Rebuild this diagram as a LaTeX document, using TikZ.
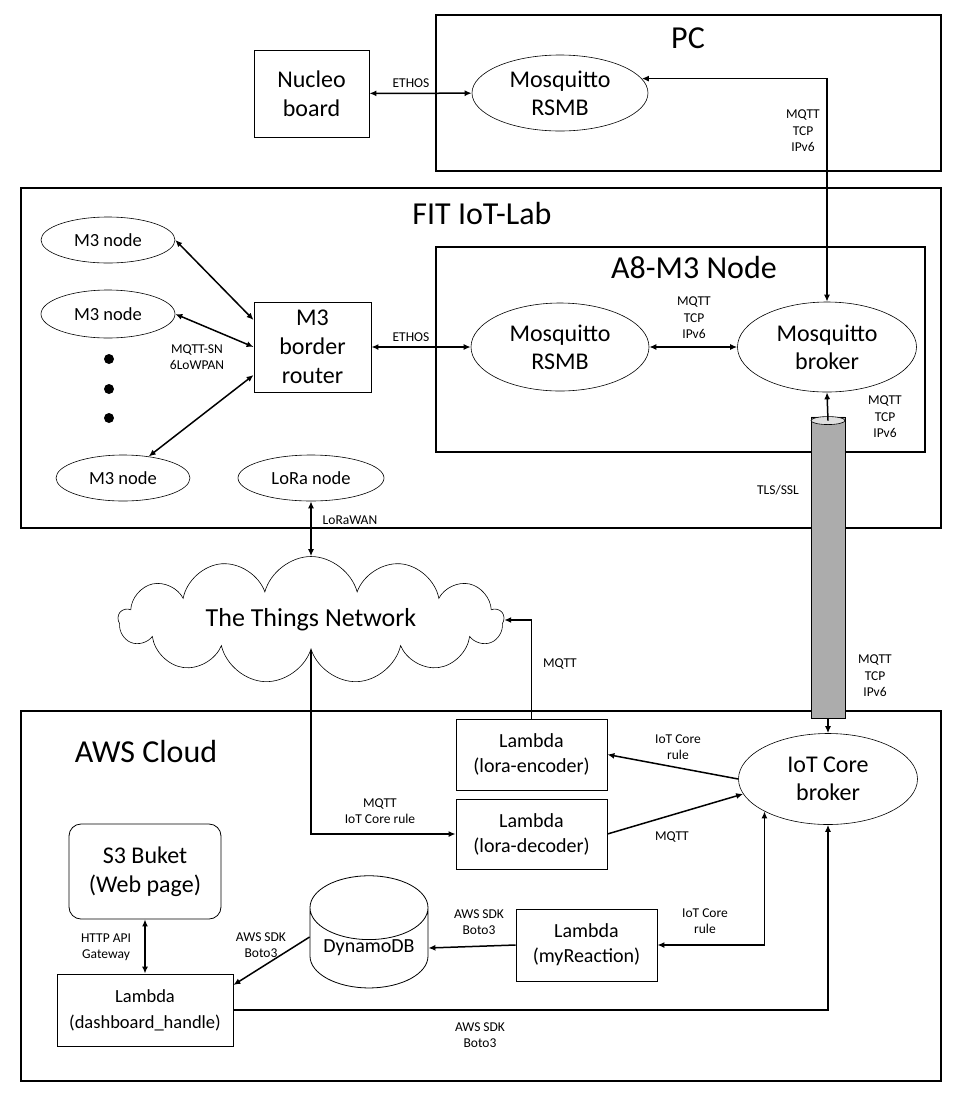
\documentclass[tikz,border=0pt]{standalone}
\usepackage{fontspec}
\setmainfont{Carlito}
\usetikzlibrary{shapes.geometric,shapes.symbols,arrows.meta,positioning}

\begin{document}
\begin{tikzpicture}[x=1pt,y=-1pt,
  frame/.style={draw,line width=2pt},
  box/.style={draw,line width=0.8pt,inner sep=0pt,align=center,font=\fontsize{24}{29}\selectfont},
  lbox/.style={box,font=\fontsize{20}{25}\selectfont},
  oval/.style={ellipse,draw,line width=0.6pt,inner sep=0pt,align=center,font=\fontsize{24}{28}\selectfont},
  ttl/.style={font=\fontsize{32}{36}\selectfont},
  lbl/.style={align=center,inner sep=0pt,font=\fontsize{13.5}{16.5}\selectfont},
  link/.style={line width=1.5pt,-{Latex[length=7pt,width=6pt]}},
  link2/.style={line width=1.5pt,{Latex[length=7pt,width=6pt]}-{Latex[length=7pt,width=6pt]}}]

\useasboundingbox (0,0) rectangle (960,1096);

% frames
\draw[frame] (436,15) rectangle (941,171);
\draw[frame] (21,188) rectangle (941,528);
\draw[frame] (436,247) rectangle (925,452);
\draw[frame] (21,711) rectangle (941,1081);

\node[ttl] (tPC) at (688,38) {PC};
\node[ttl] (tFIT) at (482,214) {FIT IoT-Lab};
\node[ttl] (tA8) at (694,268) {A8-M3 Node};
\node[ttl] (tAWS) at (146,751) {AWS Cloud};

% PC
\node[box,minimum width=115pt,minimum height=87pt] (nucleo) at (311.5,93.5) {Nucleo\\board};
\node[oval,minimum width=176pt,minimum height=76pt] (pcrsmb) at (560,93) {Mosquitto\\RSMB};

% FIT IoT-Lab
\node[oval,minimum width=134pt,minimum height=46pt,font=\fontsize{18.5}{22}\selectfont] (m3a) at (108,240) {M3 node};
\node[oval,minimum width=134pt,minimum height=48pt,font=\fontsize{18.5}{22}\selectfont] (m3b) at (108,314) {M3 node};
\node[oval,minimum width=134pt,minimum height=46pt,font=\fontsize{18.5}{22}\selectfont] (m3c) at (123,478) {M3 node};
\node[oval,minimum width=146pt,minimum height=46pt,font=\fontsize{18.5}{22}\selectfont] (lora) at (311,478) {LoRa node};

\foreach \y in {359,389,418}
{
  \fill (109,\y) circle (5);
}

\node[box,minimum width=117pt,minimum height=90pt] (router) at (312.5,347) {M3\\border\\router};
\node[oval,minimum width=178pt,minimum height=88pt] (a8rsmb) at (560,347) {Mosquitto\\RSMB};
\node[oval,minimum width=179pt,minimum height=90pt] (a8brk) at (827,347) {Mosquitto\\broker};

% tunnel
\node[cylinder,shape border rotate=90,draw,line width=0.6pt,cylinder uses custom fill,
  cylinder body fill=gray!65,cylinder end fill=gray!25,aspect=2,
  minimum width=34pt,minimum height=301pt,inner sep=0pt] (tls) at (828,567.5) {};
\draw[fill=gray!25,line width=0.6pt] ([yshift=-4pt]tls.top) ellipse (17pt and 4pt);

% cloud
\node[cloud,draw,line width=0.6pt,cloud puffs=13,aspect=4,inner sep=0pt,
  minimum width=385pt,minimum height=125pt,font=\fontsize{26}{30}\selectfont] (ttn) at (311,620) {The Things Network};

% AWS
\node[oval,minimum width=179pt,minimum height=91pt] (iotb) at (828,779) {IoT Core\\broker};
\node[lbox,minimum width=151pt,minimum height=71pt] (enc) at (531.5,754.5) {Lambda\\(lora-encoder)};
\node[lbox,minimum width=151pt,minimum height=70pt] (dec) at (531.5,834) {Lambda\\(lora-decoder)};
\node[lbox,minimum width=141pt,minimum height=72pt] (myr) at (586.5,945) {Lambda\\(myReaction)};
\node[cylinder,shape border rotate=90,draw,line width=0.8pt,aspect=0.7,inner sep=0pt,
  minimum width=118pt,minimum height=104pt,font=\fontsize{20}{25}\selectfont] (dyn) at (369,948) {DynamoDB};
\node[box,rounded corners=12pt,minimum width=152pt,minimum height=95pt] (s3) at (145,871.5) {S3 Buket\\(Web page)};
\node[box,minimum width=176pt,minimum height=72pt,font=\fontsize{18.5}{26}\selectfont] (dash) at (145,1010) {Lambda\\(dashboard\_handle)};

% connectors
\draw[link2] (nucleo) -- (pcrsmb);
\draw[link2] (pcrsmb.10) -| (a8brk.north);
\draw[link2] (m3a.east) -- ([yshift=27pt]router.west);
\draw[link2] (m3b.east) -- (router.west);
\draw[link2] (m3c.40) -- ([yshift=-28pt]router.west);
\draw[link2] (router) -- (a8rsmb);
\draw[link2] (a8rsmb) -- (a8brk);
\draw[link] ([yshift=-4pt]tls.top) -- (a8brk.south);
\draw[link] (tls.bottom) -- (iotb.north);
\draw[link2] (lora.south) -- (ttn.north);
\draw[link] (ttn.south) |- (dec.west);
\draw[link] (enc.north) |- (ttn.east);
\draw[link] (iotb.west) -- (enc.east);
\draw[link] (dec.east) -- (iotb.190);
\draw[link2] (myr.east) -| (iotb.207);
\draw[link] (myr.west) -- (dyn.east);
\draw[link] ([yshift=11pt]dyn.west) -- ([yshift=25pt]dash.east);
\draw[link2] (s3.south) -- (dash.north);
\draw[link] (dash.east) -| (iotb.south);

% labels
\node[lbl] (l1) at (411,83) {ETHOS};
\node[lbl] (l2) at (803,131) {MQTT\\TCP\\IPv6};
\node[lbl] (l3) at (694,318) {MQTT\\TCP\\IPv6};
\node[lbl] (l4) at (197,357) {MQTT-SN\\6LoWPAN};
\node[lbl] (l5) at (411,337) {ETHOS};
\node[lbl] (l6) at (885,417) {MQTT\\TCP\\IPv6};
\node[lbl] (l7) at (778,490) {TLS/SSL};
\node[lbl] (l8) at (875,676) {MQTT\\TCP\\IPv6};
\node[lbl] (l9) at (350,520) {LoRaWAN};
\node[lbl] (l10) at (560,664) {MQTT};
\node[lbl] (l11) at (380,811) {MQTT\\IoT Core rule};
\node[lbl] (l12) at (678,747) {IoT Core\\rule};
\node[lbl] (l13) at (672,837) {MQTT};
\node[lbl] (l14) at (705,921) {IoT Core\\rule};
\node[lbl] (l15) at (479,922) {AWS SDK\\Boto3};
\node[lbl] (l16) at (261,945) {AWS SDK\\Boto3};
\node[lbl] (l17) at (106,947) {HTTP API\\Gateway};
\node[lbl] (l18) at (480,1035) {AWS SDK\\Boto3};

\end{tikzpicture}
\end{document}
